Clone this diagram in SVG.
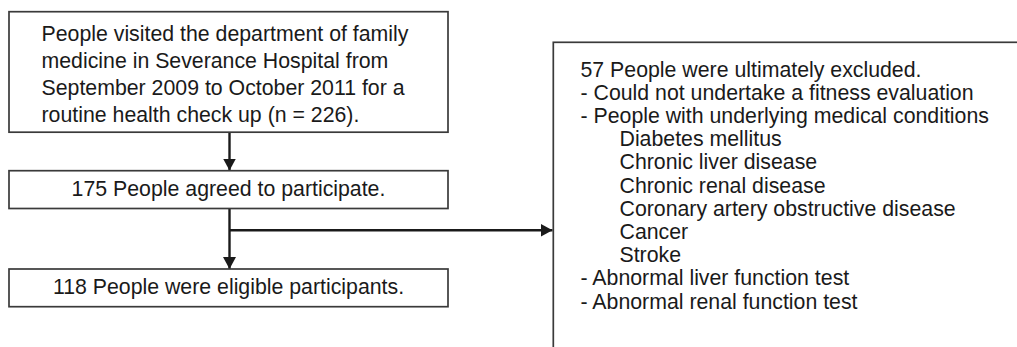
<svg xmlns="http://www.w3.org/2000/svg" width="1017" height="347" viewBox="0 0 1017 347">
<style>
  .box { fill: #ffffff; stroke: #3a3a3a; stroke-width: 1.7; }
  .t { font-family: "Liberation Sans", Arial, sans-serif; font-size: 21.3px; fill: #1a1a1a; }
  .c { text-anchor: middle; }
  .conn { stroke: #1a1a1a; stroke-width: 2.4; fill: none; }
</style>
<defs>
  <marker id="arrow" viewBox="0 0 12 13" refX="12" refY="6.5" markerWidth="12" markerHeight="13" markerUnits="userSpaceOnUse" orient="auto">
    <path d="M0,0 L12,6.5 L0,13 z" fill="#1a1a1a"/>
  </marker>
</defs>
<rect width="1017" height="347" fill="#ffffff"/>
<g id="connectors">
  <line class="conn" x1="229.5" y1="132.5" x2="229.5" y2="170.5" marker-end="url(#arrow)"/>
  <line class="conn" x1="229.5" y1="208.5" x2="229.5" y2="269" marker-end="url(#arrow)"/>
  <line class="conn" x1="229.5" y1="230.3" x2="552.5" y2="230.3" marker-end="url(#arrow)"/>
</g>
<g id="node-visited">
  <rect class="box" x="9" y="11.7" width="439" height="120.5"/>
  <text class="t" x="41.5" y="40.7">People visited the department of family</text>
  <text class="t" x="41.5" y="67.8">medicine in Severance Hospital from</text>
  <text class="t" x="41.5" y="94.9">September 2009 to October 2011 for a</text>
  <text class="t" x="41.5" y="122">routine health check up (n = 226).</text>
</g>
<g id="node-agreed">
  <rect class="box" x="9" y="170.7" width="439" height="37.8"/>
  <text class="t c" x="228.5" y="196">175 People agreed to participate.</text>
</g>
<g id="node-eligible">
  <rect class="box" x="9" y="269" width="439" height="37.7"/>
  <text class="t c" x="228.5" y="293.5">118 People were eligible participants.</text>
</g>
<g id="node-excluded">
  <rect class="box" x="553.3" y="42.3" width="600" height="400"/>
  <text class="t" x="580.5" y="76.5">57 People were ultimately excluded.</text>
  <text class="t" x="580.5" y="99.7">- Could not undertake a fitness evaluation</text>
  <text class="t" x="580.5" y="122.9">- People with underlying medical conditions</text>
  <text class="t" x="619.5" y="146.1">Diabetes mellitus</text>
  <text class="t" x="619.5" y="169.3">Chronic liver disease</text>
  <text class="t" x="619.5" y="192.5">Chronic renal disease</text>
  <text class="t" x="619.5" y="215.7">Coronary artery obstructive disease</text>
  <text class="t" x="619.5" y="238.9">Cancer</text>
  <text class="t" x="619.5" y="262.1">Stroke</text>
  <text class="t" x="580.5" y="285.3">- Abnormal liver function test</text>
  <text class="t" x="580.5" y="308.5">- Abnormal renal function test</text>
</g>
</svg>
